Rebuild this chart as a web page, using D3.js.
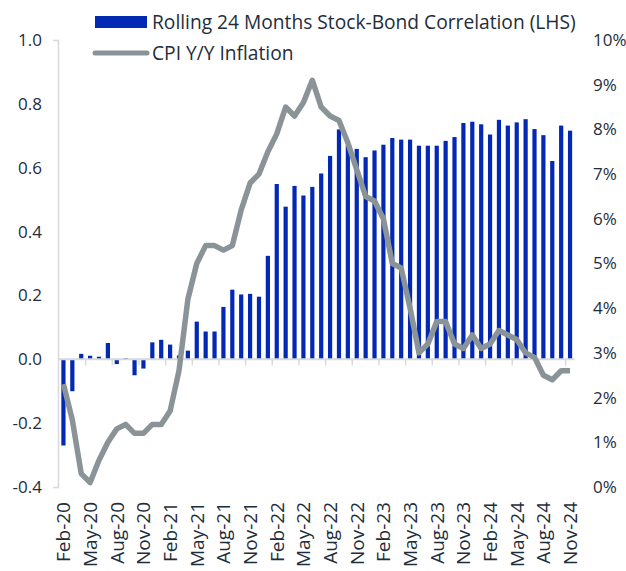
<!DOCTYPE html>
<html><head><meta charset="utf-8">
<script src="https://cdn.jsdelivr.net/npm/d3@7"></script>
<style>
body{margin:0;background:#fff}
text{font-family:'Open Sans',sans-serif;fill:#1e2d3b}
</style>
</head><body>
<svg id="c" width="626" height="571"></svg>
<script>
const months = ["Feb-20","Mar-20","Apr-20","May-20","Jun-20","Jul-20","Aug-20","Sep-20","Oct-20","Nov-20","Dec-20",
"Jan-21","Feb-21","Mar-21","Apr-21","May-21","Jun-21","Jul-21","Aug-21","Sep-21","Oct-21","Nov-21","Dec-21",
"Jan-22","Feb-22","Mar-22","Apr-22","May-22","Jun-22","Jul-22","Aug-22","Sep-22","Oct-22","Nov-22","Dec-22",
"Jan-23","Feb-23","Mar-23","Apr-23","May-23","Jun-23","Jul-23","Aug-23","Sep-23","Oct-23","Nov-23","Dec-23",
"Jan-24","Feb-24","Mar-24","Apr-24","May-24","Jun-24","Jul-24","Aug-24","Sep-24","Oct-24","Nov-24"];

const correlation = [-0.27,-0.10,0.017,0.011,0.008,0.051,-0.015,0.004,-0.050,-0.029,0.053,
0.061,0.046,0.012,0.027,0.118,0.087,0.087,0.164,0.218,0.203,0.205,0.196,
0.324,0.549,0.478,0.543,0.513,0.540,0.582,0.637,0.720,0.670,0.659,0.633,
0.654,0.672,0.693,0.688,0.688,0.669,0.669,0.669,0.684,0.696,0.740,0.744,
0.736,0.704,0.750,0.732,0.742,0.752,0.721,0.702,0.621,0.732,0.716];

const cpi = [2.3,1.5,0.3,0.1,0.6,1.0,1.3,1.4,1.2,1.2,1.4,
1.4,1.7,2.6,4.2,5.0,5.4,5.4,5.3,5.4,6.2,6.8,7.0,
7.5,7.9,8.5,8.3,8.6,9.1,8.5,8.3,8.2,7.7,7.1,6.5,
6.4,6.0,5.0,4.9,4.0,3.0,3.2,3.7,3.7,3.2,3.1,3.4,
3.1,3.2,3.5,3.4,3.3,3.0,2.9,2.5,2.4,2.6,2.6];

const leftTicks = [-0.4,-0.2,0.0,0.2,0.4,0.6,0.8,1.0];
const rightTicks = [0,1,2,3,4,5,6,7,8,9,10];
const xLabels = months.filter((m,i)=>i%3===0);
const seriesNames = ["Rolling 24 Months Stock-Bond Correlation (LHS)","CPI Y/Y Inflation"];

const BLUE = "#0328b4", GREY = "#8a9398", AXIS = "#d9d9d9", FS = 19, TFS = 17;

const svg = d3.select("#c");
const x = d3.scaleBand().domain(months).range([59, 574.5]).padding(0);
const bw = x.bandwidth();
const yL = d3.scaleLinear().domain([-0.4,1.0]).range([487,40]);
const yR = d3.scaleLinear().domain([0,10]).range([487,40]);

// left axis
const gL = svg.append("g").attr("transform","translate(58,0)")
  .call(d3.axisLeft(yL).tickValues(leftTicks).tickSizeInner(0).tickSizeOuter(5).tickPadding(16)
  .tickFormat(d=>d3.format(".1f")(d).replace("\u2212","-")));
gL.select(".domain").attr("stroke",AXIS).attr("stroke-width",1.5);
gL.selectAll("text").attr("font-size",TFS).attr("font-family","'Open Sans',sans-serif").attr("fill","#1e2d3b");

// right axis
const gR = svg.append("g").attr("transform","translate(593,0)")
  .call(d3.axisRight(yR).tickValues(rightTicks).tickSize(0).tickPadding(0).tickFormat(d=>d+"%"));
gR.select(".domain").remove();
gR.selectAll("text").attr("font-size",TFS).attr("font-family","'Open Sans',sans-serif").attr("fill","#1e2d3b");

// bars
const barW = 4.2;
svg.append("g").selectAll("rect").data(months).join("rect")
  .attr("x",(m)=>x(m)+bw/2-barW/2)
  .attr("width",barW)
  .attr("y",(m,i)=>yL(Math.max(0,correlation[i])))
  .attr("height",(m,i)=>Math.abs(yL(correlation[i])-yL(0)))
  .attr("fill",BLUE);

// zero axis line & ticks
const y0 = yL(0);
svg.append("line").attr("x1",58).attr("x2",x.range()[1]).attr("y1",y0).attr("y2",y0)
  .attr("stroke",AXIS).attr("stroke-width",2);
svg.append("g").selectAll("line").data(xLabels.slice(1)).join("line")
  .attr("x1",m=>x(m)).attr("x2",m=>x(m)).attr("y1",y0).attr("y2",y0+6)
  .attr("stroke",AXIS).attr("stroke-width",1.5);

// x labels
svg.append("g").selectAll("text").data(xLabels).join("text")
  .attr("transform",m=>`translate(${x(m)+bw/2},502) rotate(-90)`)
  .attr("text-anchor","end").attr("dy","0.36em").attr("font-size",FS)
  .text(m=>m);

// CPI line
const line = d3.line().x((v,i)=>x(months[i])+bw/2).y(v=>yR(v));
svg.append("path").datum(cpi).attr("d",line).attr("fill","none")
  .attr("stroke",GREY).attr("stroke-width",5.5).attr("stroke-linejoin","round");

// legend
const lg = svg.append("g");
lg.append("rect").attr("x",95).attr("y",16).attr("width",52).attr("height",12).attr("fill",BLUE);
lg.append("line").attr("x1",95).attr("x2",147).attr("y1",53).attr("y2",53)
  .attr("stroke",GREY).attr("stroke-width",5).attr("stroke-linecap","round");
lg.append("text").attr("x",152).attr("y",28.5).attr("font-size",19.2).text(seriesNames[0]);
lg.append("text").attr("x",152).attr("y",60).attr("font-size",19.2).text(seriesNames[1]);
</script>
</body></html>
